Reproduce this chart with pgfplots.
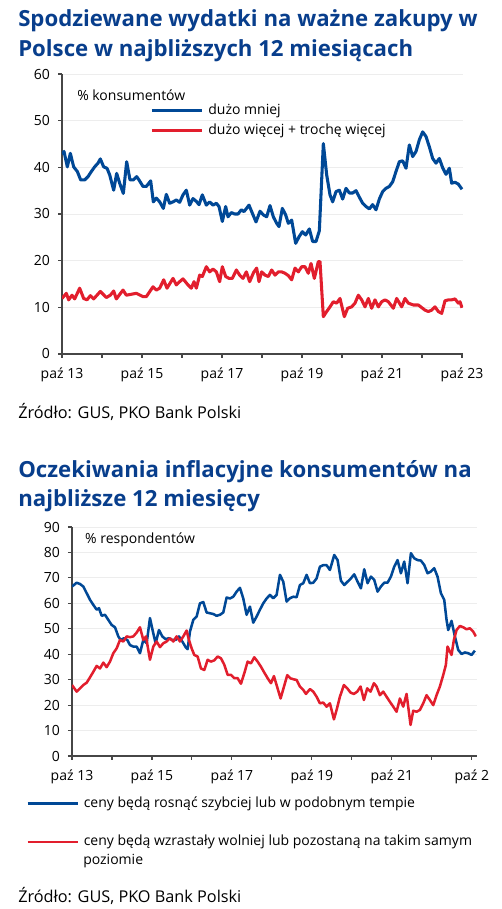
\documentclass[border=0pt]{standalone}
\usepackage{pgfplots}
\pgfplotsset{compat=1.18}
\usepackage{fontspec}
\setmainfont{Open Sans}
\definecolor{pkoblue}{RGB}{0,72,150}
\definecolor{pkored}{RGB}{226,30,45}
\definecolor{titleblue}{RGB}{8,62,140}
\definecolor{axisgray}{RGB}{70,70,70}
\newcommand{\ttl}{\bfseries\fontsize{16.65}{18}\selectfont}
\newcommand{\lbl}{\fontsize{10.5}{12}\selectfont}
\newcommand{\src}{\fontsize{12.2}{14}\selectfont}
\pgfplotsset{
  pko/.style={
    scale only axis, anchor=south west,
    axis x line=bottom, axis y line=left,
    axis line style={axisgray, line width=0.8pt, -},
    tick style={axisgray, line width=0.8pt},
    tick align=outside, major tick length=3pt, minor tick length=3pt,
    ymajorgrids, grid style={black!7, line width=0.6pt},
    ticklabel style={font=\lbl, text=black},
    xticklabel style={yshift=-4pt},
    yticklabel style={xshift=-2.5pt},
    /pgf/number format/assume math mode=true,
    xtick={0,24,48,72,96,120}, minor xtick={12,36,60,84,108},
    xmin=0, ymin=0,
    legend image code/.code={\draw[#1] (0pt,0pt) -- (37.5pt,0pt);},
    legend cell align=left,
  },
}
\begin{document}
\begin{tikzpicture}[x=0.75pt,y=0.75pt]
\useasboundingbox (0,0) rectangle (501,909);
% ---------- titles ----------
\node[anchor=base west, inner sep=0, text=titleblue, font=\ttl] at (18,882) {Spodziewane wydatki na ważne zakupy w};
\node[anchor=base west, inner sep=0, text=titleblue, font=\ttl] at (18,852) {Polsce w najbliższych 12 miesiącach};
\node[anchor=base west, inner sep=0, font=\src] at (18,490) {Źródło: GUS, PKO Bank Polski};
\node[anchor=base west, inner sep=0, text=titleblue, font=\ttl] at (18,431) {Oczekiwania inflacyjne konsumentów na};
\node[anchor=base west, inner sep=0, text=titleblue, font=\ttl] at (18,402) {najbliższe 12 miesięcy};
\node[anchor=base west, inner sep=0, font=\src] at (18,7) {Źródło: GUS, PKO Bank Polski};
\node[anchor=base west, inner sep=0, font=\lbl] at (83,44) {poziomie};

% ---------- chart 1 ----------
\begin{axis}[pko, at={(46.5pt,416.25pt)}, width=300.75pt, height=210pt,
  xmax=120.3, ymax=60, ytick={0,10,...,60},
  xticklabels={paź 13,paź 15,paź 17,paź 19,paź 21,paź 23},
  legend style={at={(0.2195,0.8926)}, anchor=north west, draw=none, fill=none,
    inner sep=0pt, row sep=5.5pt, column sep=3.75pt,
    font=\lbl,
    nodes={inner sep=0pt, text height=7.5pt, text depth=2pt}},
]
\node[anchor=base west, inner sep=0, font=\lbl] at (axis description cs:0.0374,0.907) {\% konsumentów};
\addplot[pkoblue, line width=2.3pt, line join=round] coordinates {
(0,42.8) (0.6,43.4) (1.6,40.1) (2.5,43) (3.5,40.1) (4.6,39.1) (5.6,37.3) (6.8,37.3) (7.8,38) (8.8,39.1) (9.8,40.1) (10.8,40.9) (11.5,41.8) (12.5,40.1) (13.5,39.8) (14.3,38.4) (15.5,35.1) (16.4,38.7) (17.3,36.6) (18.4,34.4) (19.4,41.2) (20.4,37.3) (21.4,37.3) (22.4,38) (23.1,37.3) (24.3,35.9) (25.3,35.9) (26.6,37.1) (27.4,32.6) (28.3,33.4) (29.3,32.6) (30.4,31.2) (31.3,34.2) (32.3,32.3) (33.3,32.6) (34.3,33) (35.3,32.5) (36.3,34.1) (37.3,35.1) (38.3,31.9) (39.3,33.3) (40.3,32.7) (41.1,32) (42.1,34.1) (43.3,31.9) (44.3,32.6) (45.3,31.9) (46.3,32.3) (47.1,31.6) (48.1,28.4) (49.1,31.6) (49.8,29.4) (50.8,30.3) (51.8,30) (52.8,30) (53.8,30.9) (54.6,30.5) (56.1,31.9) (57.2,30) (58.2,28.3) (59.4,30.6) (60.4,29.8) (61.4,29.4) (62.4,31.8) (63.4,29.4) (64.4,28) (65.1,27.3) (66.1,31.2) (67.1,29.8) (67.9,28) (68.9,28.7) (70.1,23.7) (71.1,25.1) (72.1,26.2) (73.1,25.5) (74.2,26.8) (75.2,24.1) (76.2,24.1) (77.2,26.4) (78.4,45.1) (79.4,38.4) (80.4,34.1) (81.2,32.6) (82.2,34.8) (83.2,35.1) (84.2,33.2) (85.2,35.5) (86.2,34.5) (87.2,34.5) (88.2,35) (89.2,33.6) (90.2,32.3) (91.2,31.6) (92.2,31.1) (93.2,32) (94.2,30.9) (95.2,33.2) (96.2,34.8) (97.2,35.5) (98.2,35.9) (99.2,36.9) (100.2,39.1) (101.2,41.2) (102.2,41.4) (103.2,39.8) (104.2,44.8) (105.2,42.3) (106.2,43.4) (107.2,45.9) (108.2,47.6) (109.2,46.6) (110.2,44.4) (111.2,41.9) (112.2,40.9) (113.2,41.9) (114.2,39.9) (115.2,38.5) (116.2,39.8) (116.9,36.6) (117.9,36.8) (118.9,36.4) (120,35.3)
};
\addlegendentry{dużo mniej}
\addplot[pkored, line width=2.3pt, line join=round] coordinates {
(0,11.9) (1.3,13.0) (2,11.6) (3,12.6) (3.8,11.8) (5.3,14.1) (6.5,11.9) (7.5,11.6) (8.5,12.5) (9.5,11.8) (11.5,13.4) (13.3,12.1) (14.5,12.6) (15.5,13.5) (16.3,11.8) (18.3,13.7) (19.3,12.6) (20.8,12.8) (22.3,13.0) (24.3,12.3) (25.3,12.3) (27.3,14.4) (28.3,13.7) (29.3,14.1) (30.5,15.9) (31.5,14.1) (33.3,16.2) (34.3,14.8) (35.3,15.5) (36.3,16.1) (37.8,14.8) (38.8,14.1) (39.6,15.5) (40.3,14.1) (41.3,16.9) (42.1,16.6) (43.3,18.7) (44.3,17.6) (45.3,18.2) (46.3,17.6) (47.3,15.5) (48.1,18.7) (49.1,16.6) (50.1,16.2) (51.1,16.2) (52.3,18.0) (53.3,16.9) (54.3,16.2) (55.3,17.6) (56.3,15.5) (57.5,17.5) (58.4,18.4) (59.1,15.5) (59.9,17.6) (60.9,16.9) (61.9,16.6) (62.9,18.0) (63.9,16.9) (64.9,17.6) (65.9,17.6) (66.9,17.3) (67.9,16.8) (68.9,15.9) (69.9,18.4) (70.9,17.6) (71.9,18.7) (72.9,18.7) (73.9,17.3) (74.7,19.4) (75.7,16.2) (76.9,19.8) (77.4,19.8) (78.4,8.0) (79.4,9.1) (80.4,10.1) (81.4,11.2) (82.4,10.9) (83.4,11.9) (84.7,8.0) (85.7,9.8) (86.9,10.1) (87.9,10.9) (88.9,12.6) (89.9,11.6) (90.9,10.1) (91.9,11.9) (92.9,9.8) (93.9,11.6) (94.9,10.1) (95.9,11.2) (96.9,11.6) (97.9,11.2) (99.4,9.8) (100.4,11.9) (101.9,10.1) (102.9,11.9) (103.9,10.9) (105.4,10.5) (106.9,10.5) (108.9,9.4) (109.9,9.1) (110.9,9.4) (111.9,10.1) (112.9,9.1) (113.9,8.7) (114.9,11.4) (115.9,11.6) (116.9,11.6) (117.9,11.8) (118.9,10.9) (119.4,11.2) (120,9.9)
};
\addlegendentry{dużo więcej + trochę więcej}
\end{axis}

% ---------- chart 2 ----------
\begin{axis}[pko, at={(54pt,114.75pt)}, width=303.4pt, height=171.75pt,
  xmax=121.4, ymax=90, ytick={0,10,...,90},
  xticklabels={paź 13,paź 15,paź 17,paź 19,paź 21,paź 2},
  legend style={at={(-0.1137,-0.179)}, anchor=north west, draw=none, fill=none,
    inner sep=0pt, row sep=19.25pt, column sep=3.75pt,
    font=\lbl,
    nodes={inner sep=0pt, text height=7.5pt, text depth=2pt}},
]
\node[anchor=base west, inner sep=0, font=\lbl] at (axis description cs:0.032,0.930) {\% respondentów};
\addplot[pkoblue, line width=1.9pt, line join=round] coordinates {
(0,66.6) (1.4,68.1) (2.4,67.6) (3.4,66.6) (4.4,64) (5.4,61.4) (6.4,59.4) (7.4,57.5) (8.1,58.1) (8.9,55.1) (9.9,55.5) (10.9,53.5) (11.9,51.5) (12.9,50.6) (13.9,47) (14.6,45.6) (15.6,46.3) (16.6,45.6) (17.4,43.6) (18.4,43) (19.4,43) (20.4,40.4) (21.4,45.6) (22.4,44.3) (23.4,54.2) (24.4,48.2) (25.1,44.3) (26.1,49.5) (27.1,47) (28.1,45.9) (29.1,46.3) (30.1,45.6) (31.1,45.6) (32.1,47) (33.1,45) (34.1,42.8) (34.7,42) (35.4,48.9) (36.4,53.5) (37.4,54.8) (38.4,60) (39.4,60.5) (40.4,56.4) (41.4,56.1) (42.4,55.8) (43.4,55.1) (44.4,55.5) (45.4,56.4) (46.4,62.3) (47.4,61.9) (48.4,62.6) (49.4,64.6) (50.4,66.1) (51.4,61.9) (52.4,55.5) (53.4,58.7) (54.4,52.4) (55.4,54.8) (56.4,57.5) (57.4,60) (58.4,61.9) (59.4,63.3) (60.4,62) (61.4,63.3) (62.4,71.2) (63.4,68.5) (64.4,60.7) (65.4,62) (66.4,62.6) (67.4,62.4) (68.4,67.2) (69.4,67.9) (70.4,71.2) (71.4,67.9) (72.4,68.1) (73.4,69.8) (74.4,74.4) (75.4,75) (76.4,75) (77.4,73.1) (78.7,79) (79.7,77) (80.7,68.9) (81.7,67.2) (82.7,68.5) (83.7,69.8) (84.7,71.4) (85.7,68.5) (86.7,65.9) (87.7,73.4) (88.7,67.9) (89.7,70.5) (90.7,69.2) (91.7,64.6) (92.7,66.6) (93.7,68.1) (94.7,68.1) (95.7,70.5) (96.7,74.4) (97.7,77) (98.7,71.8) (99.7,76.4) (100.7,67.9) (101.7,79.7) (102.7,77.7) (103.7,77) (104.7,76.8) (105.7,75.1) (106.7,71.8) (107.7,72.5) (108.7,73.8) (109.7,70.5) (110.7,64) (111.7,61.4) (112.4,53.5) (112.9,49.5) (113.9,53.1) (114.9,47) (115.9,41.7) (116.9,40.1) (117.9,40.7) (118.9,40.4) (119.9,39.7) (120.9,41.4)
};
\addlegendentry{ceny będą rosnąć szybciej lub w podobnym tempie}
\addplot[pkored, line width=1.9pt, line join=round] coordinates {
(0,27.9) (1.4,25.3) (2.4,26.6) (3.4,27.9) (4.4,28.8) (5.4,30.9) (6.4,33.1) (7.4,35.4) (8.4,34.4) (9.4,36.7) (10.4,34.9) (11.4,37.1) (12.4,40.4) (13.4,42.3) (14.4,45.6) (15.4,45) (16.4,47) (17.4,46.7) (18.4,47) (19.4,48.5) (20.4,50.6) (21.4,45.6) (22.2,47) (23.4,37.8) (24.4,43) (25.4,45) (26.4,42.8) (27.4,44.3) (28.4,45) (29.4,46.3) (30.4,45) (31.4,47) (32.4,45) (33.4,47) (34.4,49.3) (35.1,45.6) (35.9,42.3) (36.7,39.7) (37.7,39.1) (38.7,34.4) (39.7,33.8) (40.7,37.8) (41.7,37.1) (42.7,37.6) (43.7,39.1) (44.7,38.4) (45.7,35.9) (46.7,31.9) (47.7,31.9) (48.7,30.6) (49.7,30.6) (50.7,28.4) (51.7,32.5) (52.7,37.1) (53.7,36.4) (54.7,38.8) (55.7,37.1) (56.7,35.1) (57.7,32.8) (58.7,30.6) (59.7,28.6) (60.6,31.4) (62.6,22.6) (64.6,31.8) (65.6,30.5) (66.6,30.1) (67.4,29.9) (68.4,27.3) (69.4,26) (70.2,24.4) (71.4,26.3) (72.4,25.3) (73.4,23.3) (74.4,20.7) (75.4,21) (76.4,19.4) (77.4,20.7) (78.6,14.4) (79.4,18.1) (80.4,23.3) (81.6,27.9) (82.6,26.6) (83.6,24.9) (84.6,24.4) (85.6,25.3) (86.6,27.3) (87.6,22) (88.6,26.6) (89.6,25.3) (90.6,28.6) (91.4,27.3) (92.4,23.9) (93.4,25.3) (94.4,23.3) (95.4,21.3) (96.4,19.4) (97.4,17.4) (98.4,22.6) (99.4,19.4) (100.4,24.4) (101.6,12.2) (102.4,17.8) (103.4,17.4) (104.4,18.1) (105.4,20.7) (106.4,23.9) (107.4,22) (108.4,20) (109.4,23.9) (110.4,27.3) (111.4,31.8) (112.2,35.8) (112.7,43) (113.9,39.7) (114.6,45.6) (115.4,49.5) (116.4,51.1) (117.4,50.6) (118.4,49.8) (119.4,50.2) (120.4,48.9) (121.2,47)
};
\addlegendentry{ceny będą wzrastały wolniej lub pozostaną na takim samym}
\end{axis}
\end{tikzpicture}
\end{document}
